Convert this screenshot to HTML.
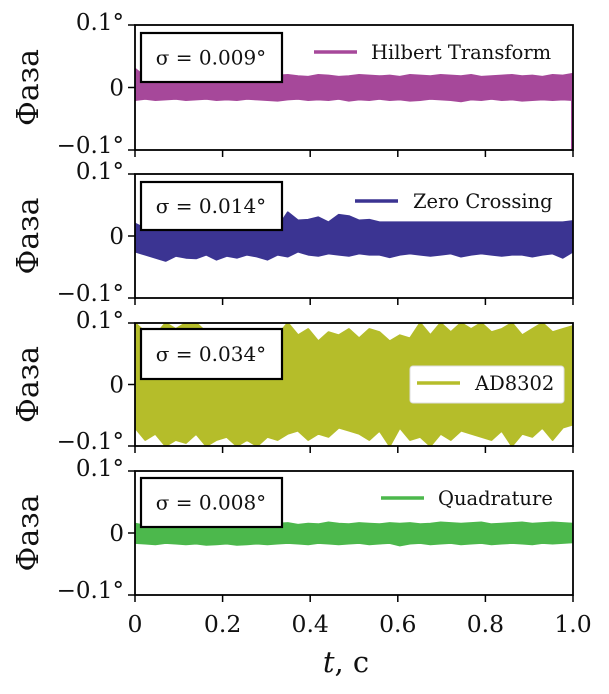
<!DOCTYPE html>
<html><head><meta charset="utf-8">
<style>
html,body{margin:0;padding:0;background:#fff;}
svg{display:block;font-family:"DejaVu Serif","Liberation Serif",serif;}
</style></head>
<body>
<svg id="chart" width="609" height="694" viewBox="0 0 609 694"></svg>
<script>
// ---- data (degrees), envelope per time bin ----
const xTicks = [0, 0.2, 0.4, 0.6, 0.8, 1.0];
const xTickLabels = ["0", "0.2", "0.4", "0.6", "0.8", "1.0"];
const yTicks = [0.1, 0, -0.1];
const yTickLabels = ["0.1°", "0", "\u22120.1°"];
const seriesNames = ["Hilbert Transform", "Zero Crossing", "AD8302", "Quadrature"];
const sigmaLabels = ["σ = 0.009°", "σ = 0.014°", "σ = 0.034°", "σ = 0.008°"];
const hilbertHi = [0.03,0.017,0.016,0.017,0.018,0.016,0.017,0.016,0.018,0.017,0.016,0.017,0.018,0.016,0.019,0.02,0.018,0.017,0.02,0.019,0.017,0.018,0.02,0.019,0.018,0.019,0.017,0.02,0.019,0.018,0.02,0.019,0.018,0.02,0.017,0.018,0.019,0.02,0.018,0.019,0.017,0.02,0.019,0.022];
const hilbertLo = [-0.02,-0.018,-0.02,-0.019,-0.018,-0.02,-0.019,-0.018,-0.02,-0.019,-0.02,-0.018,-0.019,-0.02,-0.021,-0.019,-0.018,-0.02,-0.019,-0.02,-0.018,-0.021,-0.019,-0.02,-0.018,-0.02,-0.019,-0.021,-0.02,-0.018,-0.019,-0.02,-0.022,-0.019,-0.02,-0.018,-0.02,-0.019,-0.021,-0.02,-0.019,-0.02,-0.019,-0.02];
const hilbertEndDrop = -0.1;
const zeroHi = [0.02,0.012,0.014,0.013,0.012,0.014,0.013,0.012,0.014,0.013,0.012,0.013,0.014,0.012,0.013,0.038,0.025,0.026,0.03,0.022,0.034,0.032,0.025,0.026,0.022,0.022,0.022,0.022,0.022,0.022,0.022,0.022,0.022,0.022,0.022,0.022,0.022,0.022,0.022,0.022,0.022,0.022,0.022,0.024];
const zeroLo = [-0.025,-0.03,-0.035,-0.04,-0.032,-0.035,-0.036,-0.03,-0.038,-0.032,-0.035,-0.03,-0.033,-0.038,-0.03,-0.033,-0.025,-0.03,-0.032,-0.028,-0.03,-0.032,-0.028,-0.03,-0.03,-0.034,-0.03,-0.028,-0.03,-0.032,-0.03,-0.028,-0.033,-0.03,-0.028,-0.03,-0.032,-0.03,-0.03,-0.033,-0.03,-0.028,-0.035,-0.025];
const adHi = [0.1,0.085,0.08,0.1,0.09,0.1,0.1,0.085,0.09,0.08,0.07,0.08,0.07,0.065,0.08,0.1,0.08,0.09,0.07,0.085,0.08,0.09,0.075,0.09,0.085,0.07,0.08,0.075,0.1,0.08,0.1,0.085,0.1,0.09,0.1,0.085,0.09,0.1,0.08,0.09,0.1,0.085,0.09,0.095];
const adLo = [-0.07,-0.09,-0.08,-0.1,-0.09,-0.095,-0.08,-0.1,-0.09,-0.085,-0.1,-0.09,-0.1,-0.085,-0.09,-0.08,-0.075,-0.09,-0.08,-0.085,-0.07,-0.075,-0.08,-0.09,-0.075,-0.1,-0.07,-0.09,-0.085,-0.1,-0.08,-0.09,-0.075,-0.08,-0.085,-0.09,-0.075,-0.1,-0.08,-0.085,-0.07,-0.09,-0.07,-0.065];
const quadHi = [0.015,0.012,0.011,0.012,0.01,0.012,0.011,0.012,0.011,0.013,0.012,0.011,0.014,0.012,0.015,0.016,0.013,0.015,0.014,0.017,0.015,0.014,0.016,0.015,0.014,0.016,0.015,0.016,0.014,0.015,0.017,0.016,0.015,0.016,0.017,0.014,0.015,0.016,0.017,0.015,0.016,0.017,0.016,0.015];
const quadLo = [-0.016,-0.017,-0.018,-0.016,-0.017,-0.018,-0.017,-0.019,-0.018,-0.017,-0.019,-0.018,-0.017,-0.018,-0.017,-0.016,-0.017,-0.018,-0.016,-0.017,-0.018,-0.017,-0.016,-0.018,-0.017,-0.016,-0.02,-0.017,-0.016,-0.018,-0.017,-0.016,-0.018,-0.017,-0.016,-0.018,-0.017,-0.016,-0.017,-0.018,-0.016,-0.017,-0.016,-0.015];

const svg = document.getElementById('chart');
const NS = 'http://www.w3.org/2000/svg';
function mk(tag, attrs, parent){const e=document.createElementNS(NS,tag);for(const k in attrs)e.setAttribute(k,attrs[k]);(parent||svg).appendChild(e);return e;}

const X0 = 135, X1 = 573;
const panels = [
  {top:25, bot:150, hi:hilbertHi, lo:hilbertLo, color:'#a6489a', legX:314, legY:52, textX:371, boxT:33, boxB:82, framed:false},
  {top:174, bot:298, hi:zeroHi, lo:zeroLo, color:'#3b3492', legX:355, legY:201, textX:413, boxT:182, boxB:230, framed:false},
  {top:323, bot:446, hi:adHi, lo:adLo, color:'#b5bd2a', legX:417, legY:383, textX:475, boxT:329, boxB:379, framed:true},
  {top:471, bot:595, hi:quadHi, lo:quadLo, color:'#4cb84c', legX:381, legY:498, textX:438, boxT:478, boxB:527, framed:false}
];
const xScale = t => X0 + t*(X1-X0);

panels.forEach((p, i) => {
  const yScale = v => p.top + (0.1 - v)/0.2*(p.bot-p.top);
  const g = mk('g', {});
  
  
  const clip = mk('clipPath', {id:'clip'+i}, g);
  mk('rect', {x:X0, y:p.top, width:X1-X0, height:p.bot-p.top}, clip);
  const n = p.hi.length;
  let pts = [];
  for (let k=0;k<n;k++) pts.push(xScale(k/(n-1)).toFixed(1)+','+yScale(p.hi[k]).toFixed(1));
  for (let k=n-1;k>=0;k--) pts.push(xScale(k/(n-1)).toFixed(1)+','+yScale(p.lo[k]).toFixed(1));
  const band = mk('polygon', {points:pts.join(' '), fill:p.color, stroke:p.color, 'stroke-width':2, 'stroke-linejoin':'round', 'clip-path':'url(#clip'+i+')'}, g);
  
  
  if (i === 0) {
    const d = mk('line', {x1:xScale(1)-1, x2:xScale(1)-1, y1:yScale(p.lo[n-1]), y2:yScale(hilbertEndDrop), stroke:p.color, 'stroke-width':2}, g);
    
    
  }
  const fr = mk('rect', {x:X0, y:p.top, width:X1-X0, height:p.bot-p.top, fill:'none', stroke:'#000', 'stroke-width':1.8}, g);
  
  
  yTicks.forEach((v, j) => {
    const y = yScale(v);
    mk('line', {x1:X0-7, x2:X0, y1:y, y2:y, stroke:'#000', 'stroke-width':1.5}, g);
    const t = mk('text', {x:X0-11, y:y+ (j===0?5:(j===2?3:8)), 'text-anchor':'end', 'font-size':23, fill:'#111'}, g);
    t.textContent = yTickLabels[j];
    
    
  });
  xTicks.forEach(v => { mk('line', {x1:xScale(v), x2:xScale(v), y1:p.bot, y2:p.bot+7, stroke:'#000', 'stroke-width':1.5}, g); });
  const cy = (p.top+p.bot)/2;
  const yl = mk('text', {x:0, y:0, transform:'translate(38,'+cy+') rotate(-90)', 'text-anchor':'middle', 'font-size':30, fill:'#111'}, g);
  yl.textContent = 'Фаза';
  
  
  const sb = mk('rect', {x:141, y:p.boxT, width:141, height:p.boxB-p.boxT, fill:'#fff', stroke:'#000', 'stroke-width':2.2}, g);
  
  
  const st = mk('text', {x:211, y:(p.boxT+p.boxB)/2+7, 'text-anchor':'middle', 'font-size':20, fill:'#111'}, g);
  st.textContent = sigmaLabels[i];
  
  
  if (p.framed) {
    const lb = mk('rect', {x:410, y:366, width:154, height:37, rx:3, fill:'#fff', stroke:'#ddd', 'stroke-width':1}, g);
    
    
  }
  mk('line', {x1:p.legX, x2:p.legX+43, y1:p.legY, y2:p.legY, stroke:p.color, 'stroke-width':3.5}, g);
  const lt = mk('text', {x:p.textX, y:p.legY+7, 'font-size':19.5, fill:'#111'}, g);
  lt.textContent = seriesNames[i];
  
  
});

xTicks.forEach((v, j) => {
  const t = mk('text', {x:xScale(v), y:632, 'text-anchor':'middle', 'font-size':23.5, fill:'#111'});
  t.textContent = xTickLabels[j];
  
  
});
const xt = mk('text', {x:346, y:672, 'text-anchor':'middle', 'font-size':29, fill:'#111'});
xt.innerHTML = '<tspan font-style="italic">t</tspan>, c';


</script>
</body></html>
